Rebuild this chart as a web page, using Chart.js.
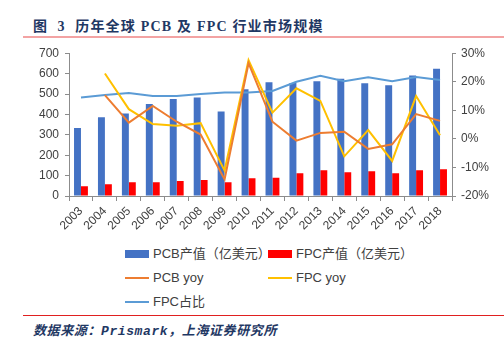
<!DOCTYPE html>
<html>
<head>
<meta charset="utf-8">
<script src="https://cdn.jsdelivr.net/npm/chart.js@4"></script>
<style>
  body { margin: 0; width: 504px; height: 346px; background: #fff; position: relative; overflow: hidden; }
  #title { position: absolute; left: 33px; top: 15px; font: bold 14px "Liberation Serif", "Noto Sans CJK SC", serif; letter-spacing: 1.2px; color: #1F3864; white-space: pre; }
  #topLine { position: absolute; left: 23px; right: 0; top: 36px; height: 2px; background: #F3A3A3; }
  #chartBox { position: absolute; left: 0; top: 40px; width: 504px; height: 200px; }
  #legend { position: absolute; left: 0; top: 244px; width: 504px; height: 68px; font: 13px "Liberation Sans", "Noto Sans CJK SC", sans-serif; color: #404040; }
  .item { position: absolute; height: 16px; line-height: 16px; white-space: nowrap; }
  .sw { position: absolute; left: 0; }
  .lbl { position: absolute; left: 28px; top: 0; }
  #botLine { position: absolute; left: 23px; right: 0; top: 315px; height: 1px; background: #E02020; }
  #source { position: absolute; left: 33px; top: 320px; font: italic bold 13px "Liberation Mono", "Noto Sans CJK SC", monospace; letter-spacing: 0.6px; color: #1F3864; white-space: nowrap; }
</style>
</head>
<body>
<div id="title">图  3  历年全球 PCB 及 FPC 行业市场规模</div>
<div id="topLine"></div>
<div id="chartBox"><canvas id="marketChart"></canvas></div>
<div id="legend"></div>
<div id="botLine"></div>
<div id="source">数据来源：Prismark，上海证券研究所</div>
<script>
const years = ['2003', '2004', '2005', '2006', '2007', '2008', '2009', '2010', '2011', '2012', '2013', '2014', '2015', '2016', '2017', '2018'];
const pcbValue = [333, 386, 404, 451, 475, 483, 414, 523, 557, 554, 562, 575, 553, 543, 591, 624];
const fpcValue = [48, 58, 68, 68, 73, 78, 68, 87, 90, 111, 126, 116, 121, 111, 126, 131];
const pcbYoy = [null, 15.3, 5.7, 11.5, 6.0, 1.5, -14.2, 26.5, 6.0, -0.6, 2.1, 2.5, -3.5, -1.9, 8.7, 6.3];
const fpcYoy = [null, 22.9, 10.4, 5.2, 4.6, 5.5, -11.1, 27.6, 9.2, 17.7, 13.3, -6.1, 3.1, -7.7, 15.0, 1.3];
const fpcShare = [14.5, 15.4, 16.1, 15.0, 15.0, 15.7, 16.2, 16.2, 16.8, 20.0, 22.1, 20.2, 21.6, 20.2, 21.7, 20.6];

const axisColor = '#8C8C8C';
const tickFont = { family: 'Liberation Sans', size: 12 };

const data = {
  labels: years,
  datasets: [{
    type: 'bar',
    label: 'PCB产值（亿美元）',
    data: pcbValue,
    backgroundColor: '#4472C4',
    yAxisID: 'y',
    order: 2
  },
  {
    type: 'bar',
    label: 'FPC产值（亿美元）',
    data: fpcValue,
    backgroundColor: '#FF0000',
    yAxisID: 'y',
    order: 2
  },
  {
    type: 'line',
    label: 'PCB yoy',
    data: pcbYoy,
    borderColor: '#ED7D31',
    backgroundColor: '#ED7D31',
    borderWidth: 2,
    pointRadius: 0,
    yAxisID: 'y1',
    order: 1
  },
  {
    type: 'line',
    label: 'FPC yoy',
    data: fpcYoy,
    borderColor: '#FFC000',
    backgroundColor: '#FFC000',
    borderWidth: 2,
    pointRadius: 0,
    yAxisID: 'y1',
    order: 1
  },
  {
    type: 'line',
    label: 'FPC占比',
    data: fpcShare,
    borderColor: '#5B9BD5',
    backgroundColor: '#5B9BD5',
    borderWidth: 2,
    pointRadius: 0,
    yAxisID: 'y1',
    order: 1
  }]
};

const config = {
  type: 'bar',
  data,
  options: {
    responsive: true,
    maintainAspectRatio: false,
    animation: false,
    layout: { padding: { top: 11, left: 0, right: 0, bottom: 0 } },
    datasets: {
      bar: { categoryPercentage: 0.58, barPercentage: 1 }
    },
    plugins: {
      legend: { display: false },
      tooltip: { enabled: false }
    },
    scales: {
      x: {
        offset: true,
        grid: { display: true, drawOnChartArea: false, offset: true, color: axisColor, tickLength: 5 },
        border: { color: axisColor },
        ticks: { color: '#404040', font: tickFont, minRotation: 45, maxRotation: 45, autoSkip: false, padding: 3 },
        afterFit: (scale) => { scale.height = 44; }
      },
      y: {
        position: 'left',
        min: 0,
        max: 700,
        grid: { display: true, drawOnChartArea: false, color: axisColor, tickLength: 4 },
        border: { color: axisColor },
        ticks: { stepSize: 100, color: '#404040', font: tickFont, padding: 6 },
        afterFit: (scale) => { scale.width = 69; }
      },
      y1: {
        position: 'right',
        min: -20,
        max: 30,
        grid: { display: true, drawOnChartArea: false, color: axisColor, tickLength: 4 },
        border: { color: axisColor },
        ticks: { stepSize: 10, color: '#404040', font: tickFont, padding: 5, callback: (v) => v + '%' },
        afterFit: (scale) => { scale.width = 52; }
      }
    }
  }
};

const marketChart = new Chart(document.getElementById('marketChart'), config);

// legend laid out as in the original: two columns, three rows
const legendPos = [[125, 2], [268, 2], [125, 26], [268, 26], [125, 50]];
const legendBox = document.getElementById('legend');
data.datasets.forEach((ds, i) => {
  const item = document.createElement('div');
  item.className = 'item';
  item.style.left = legendPos[i][0] + 'px';
  item.style.top = legendPos[i][1] + 'px';
  const sw = document.createElement('div');
  sw.className = 'sw';
  if (ds.type === 'bar') {
    sw.style.width = '24px'; sw.style.height = '8px'; sw.style.top = '4px';
  } else {
    sw.style.width = '24px'; sw.style.height = '2px'; sw.style.top = '7px';
  }
  sw.style.background = ds.backgroundColor;
  const lbl = document.createElement('span');
  lbl.className = 'lbl';
  lbl.textContent = ds.label;
  item.appendChild(sw);
  item.appendChild(lbl);
  legendBox.appendChild(item);
});
</script>
</body>
</html>
